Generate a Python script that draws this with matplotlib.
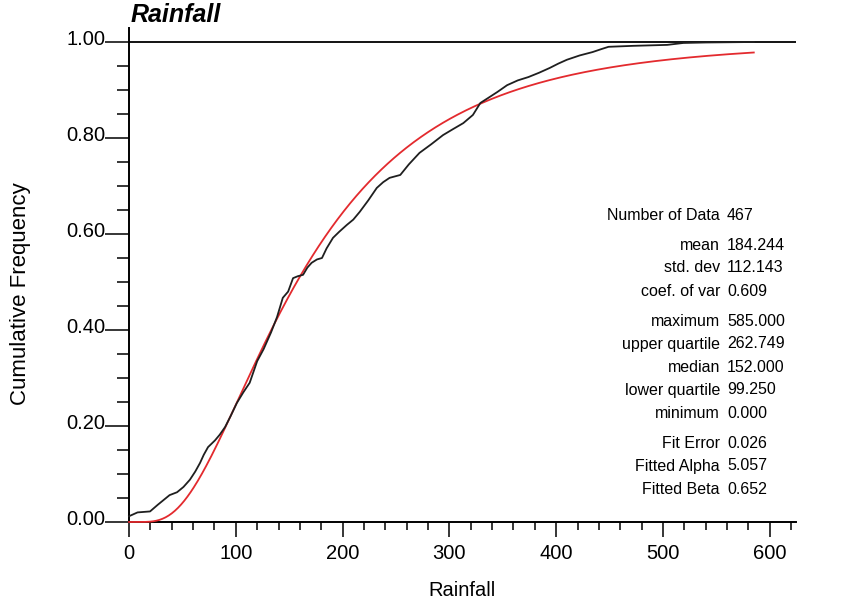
import math
import numpy as np
import matplotlib
matplotlib.use("Agg")
import matplotlib.pyplot as plt
from matplotlib.ticker import FixedLocator, MultipleLocator
from matplotlib.transforms import ScaledTranslation

plt.rcParams["font.family"] = ["Liberation Sans", "DejaVu Sans"]

# Empirical cumulative frequency of rainfall (value, cumulative frequency)
ecdf_x = [0, 8, 19.7, 27, 38, 45, 51, 57, 62, 66.5, 70, 74, 80.5, 85, 90, 95,
          101, 107, 113, 120, 126, 133, 138.6, 144, 149, 153.6, 158, 163, 167,
          171, 176, 180.7, 185, 191, 197, 204, 210, 216, 224, 232, 238, 244,
          254, 262, 272, 283, 294, 303, 313, 322, 329, 336, 345, 354, 364, 374,
          384, 394, 402, 410, 422, 434, 442, 449, 472, 504, 519, 540, 585]
ecdf_f = [0.012, 0.02, 0.022, 0.036, 0.056, 0.062, 0.073, 0.088, 0.105, 0.123,
          0.14, 0.156, 0.17, 0.182, 0.198, 0.22, 0.248, 0.27, 0.29, 0.335, 0.36,
          0.395, 0.427, 0.467, 0.48, 0.508, 0.512, 0.515, 0.53, 0.54, 0.547,
          0.55, 0.57, 0.592, 0.605, 0.619, 0.63, 0.646, 0.67, 0.696, 0.708,
          0.717, 0.723, 0.745, 0.769, 0.787, 0.806, 0.818, 0.831, 0.848, 0.873,
          0.883, 0.896, 0.91, 0.92, 0.927, 0.936, 0.946, 0.955, 0.963, 0.972,
          0.979, 0.985, 0.99, 0.992, 0.994, 0.998, 0.999, 1.0]

# Summary statistics panel
stat_labels = ["Number of Data", "mean", "std. dev", "coef. of var",
               "maximum", "upper quartile", "median", "lower quartile", "minimum",
               "Fit Error", "Fitted Alpha", "Fitted Beta"]
stat_values = ["467", "184.244", "112.143", "0.609",
               "585.000", "262.749", "152.000", "99.250", "0.000",
               "0.026", "5.057", "0.652"]
stat_rows_px = [215, 245, 268, 291, 321, 344, 367, 390, 413, 443, 466, 489]

# Fitted lognormal parameters (mean and std. dev of ln x)
fit_alpha = 5.057
fit_beta = 0.652
data_max = 585.0

W, H = 862, 606
fig = plt.figure(figsize=(W / 100, H / 100), dpi=100)
ax = fig.add_axes([129 / W, 1 - 522 / H, (796.5 - 129) / W, 494.4 / H])
ax.set_xlim(0, 625)
ax.set_ylim(0, 1.03)

# Fitted curve
xf = np.linspace(0.0, data_max, 600)
ff = np.array([0.0 if v <= 0 else
               0.5 * (1 + math.erf((math.log(v) - fit_alpha) / (fit_beta * math.sqrt(2))))
               for v in xf])
ax.plot(xf, ff, color="#e32a2e", lw=1.3, zorder=3, clip_on=False)
ax.plot(ecdf_x, ecdf_f, color="#1f1f1f", lw=1.3, zorder=4, clip_on=False)

ax.axhline(1.0, color="black", lw=1.3, zorder=2)

for s in ("top", "right"):
    ax.spines[s].set_visible(False)
for s in ("left", "bottom"):
    ax.spines[s].set_linewidth(1.4)

ax.yaxis.set_major_locator(FixedLocator([0, 0.2, 0.4, 0.6, 0.8, 1.0]))
ax.yaxis.set_minor_locator(FixedLocator([v / 20 for v in range(21) if v % 4]))
ax.xaxis.set_major_locator(MultipleLocator(100))
ax.xaxis.set_minor_locator(MultipleLocator(20))
ax.set_yticklabels(["0.00", "0.20", "0.40", "0.60", "0.80", "1.00"])
ax.tick_params(axis="y", which="major", length=17, width=1.1, pad=0, labelsize=14.5)
ax.tick_params(axis="y", which="minor", length=9, width=1.1)
ax.tick_params(axis="x", which="major", length=11, width=1.1, pad=5, labelsize=14.5)
ax.tick_params(axis="x", which="minor", length=6, width=1.1)
shift_down = ScaledTranslation(0, -3 / 100, fig.dpi_scale_trans)
for lbl in ax.get_yticklabels():
    lbl.set_va("baseline")
    lbl.set_transform(lbl.get_transform() + shift_down)

fig.text(21 / W, 1 - 294 / H, "Cumulative Frequency", rotation=90,
         ha="center", va="center", fontsize=16)
fig.text(462 / W, 1 - 591 / H, "Rainfall", ha="center", va="center", fontsize=14.5)
fig.text(131 / W, 1 - 22 / H, "Rainfall", ha="left", va="baseline",
         fontsize=18, fontweight="bold", fontstyle="italic")

for lab, val, yp in zip(stat_labels, stat_values, stat_rows_px):
    fig.text(720 / W, 1 - yp / H, lab, ha="right", va="center", fontsize=11.5)
    fig.text(727 / W, 1 - yp / H, val, ha="left", va="center", fontsize=11.5)

fig.savefig("out.png", dpi=100, facecolor="white")
